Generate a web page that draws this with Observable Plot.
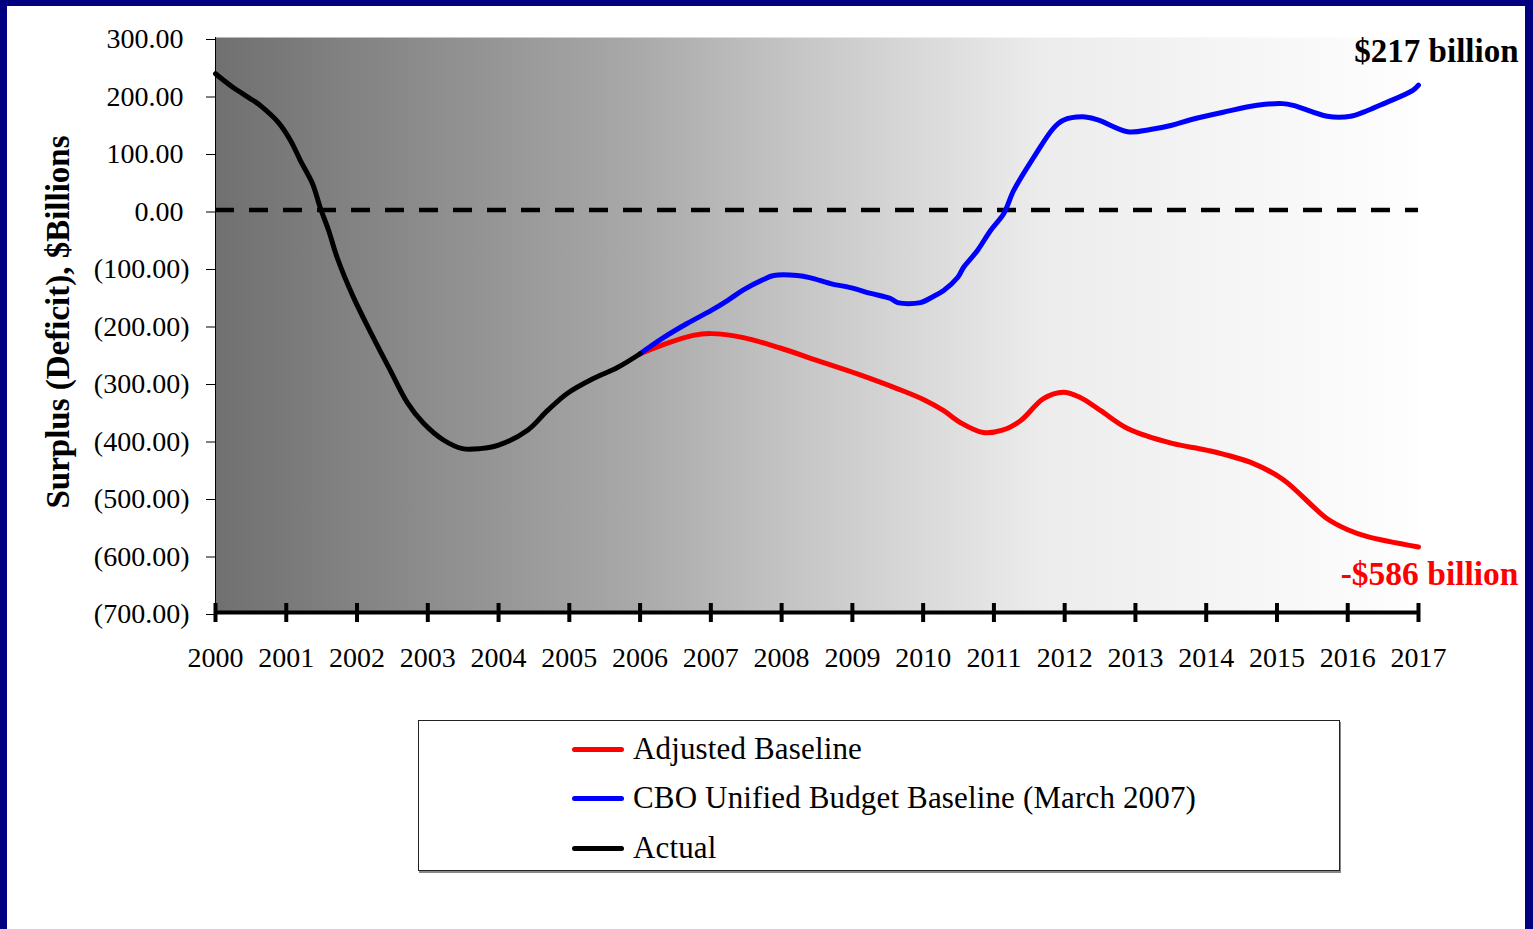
<!DOCTYPE html>
<html>
<head>
<meta charset="utf-8">
<script src="https://cdn.jsdelivr.net/npm/d3@7"></script>
<script src="https://cdn.jsdelivr.net/npm/@observablehq/plot@0.6"></script>
<style>
  html, body { margin: 0; padding: 0; width: 1533px; height: 929px; overflow: hidden; background: #000080; }
  #page { position: absolute; left: 7px; top: 6px; width: 1518px; height: 923px; background: #ffffff; }
  #chart { position: absolute; left: 0; top: 0; }
  #legend { position: absolute; left: 418px; top: 720px; width: 920px; height: 149px;
    border: 1px solid #222; box-shadow: 1px 2px 0 #888; background: #fff;
    font-family: "Liberation Serif", serif; font-size: 31px; letter-spacing: 0.15px; color: #000; }
  .item { position: absolute; left: 153px; height: 40px; display: flex; align-items: center; }
  .sw { width: 52px; height: 5px; border-radius: 3px; margin-right: 9px; }
</style>
</head>
<body>
<div id="page"></div>
<div id="chart"></div>
<div id="legend"></div>
<script>
// ---- data ----
const actualYears = [2000.0, 2000.25, 2000.54, 2000.64, 2000.89, 2001.06, 2001.20, 2001.37, 2001.48, 2001.60, 2001.72, 2001.95, 2002.23, 2002.47, 2002.71, 2002.94, 2003.22, 2003.49, 2003.74, 2004.0, 2004.41, 2004.69, 2004.97, 2005.34, 2005.68, 2006.0];
const actualValues = [237, 213, 190, 181, 152, 121, 86, 46, 4, -36, -83, -152, -222, -279, -335, -371, -400, -415, -415, -409, -383, -349, -319, -293, -274, -250];

const cboYears = [2006.0, 2006.33, 2006.67, 2007.0, 2007.24, 2007.46, 2007.74, 2007.89, 2008.22, 2008.41, 2008.69, 2008.97, 2009.26, 2009.54, 2009.64, 2009.96, 2010.15, 2010.29, 2010.49, 2010.57, 2010.77, 2010.95, 2011.14, 2011.28, 2011.56, 2011.84, 2011.98, 2012.25, 2012.46, 2012.89, 2013.21, 2013.5, 2013.78, 2014.24, 2014.72, 2015.08, 2015.23, 2015.71, 2016.04, 2016.28, 2016.51, 2016.92, 2017.0];
const cboValues = [-250, -222, -197, -175, -157, -139, -121, -114, -114, -118, -128, -135, -145, -154, -161, -161, -150, -140, -117, -100, -70, -36, -6, 34, 91, 142, 156, 162, 157, 136, 140, 147, 157, 170, 182, 185, 182, 163, 163, 173, 185, 208, 217];

const adjYears = [2006.0, 2006.33, 2006.75, 2007.0, 2007.46, 2007.98, 2008.51, 2009.07, 2009.64, 2010.01, 2010.29, 2010.53, 2010.85, 2011.12, 2011.38, 2011.7, 2011.98, 2012.22, 2012.51, 2012.89, 2013.52, 2014.02, 2014.67, 2015.09, 2015.71, 2016.0, 2016.28, 2017.0];
const adjValues = [-250, -234, -218, -215, -222, -240, -262, -285, -311, -330, -349, -370, -387, -383, -366, -328, -317, -326, -349, -380, -406, -418, -441, -469, -537, -556, -568, -586];

const yearTicks = d3.range(2000, 2018);
const valueTicks = [300, 200, 100, 0, -100, -200, -300, -400, -500, -600, -700];

const seriesNames = ["Adjusted Baseline", "CBO Unified Budget Baseline (March 2007)", "Actual"];
const seriesColors = ["#ff0000", "#0000ff", "#000000"];
const yTitle = "Surplus (Deficit), $Billions";
const endLabels = ["$217 billion", "-$586 billion"];

// ---- build tables ----
const actual = actualYears.map((x, i) => ({x, y: actualValues[i]}));
const cbo = cboYears.map((x, i) => ({x, y: cboValues[i]}));
const adj = adjYears.map((x, i) => ({x, y: adjValues[i]}));

const xDomain = [yearTicks[0], yearTicks[yearTicks.length - 1]];
const yDomain = [d3.min(valueTicks), d3.max(valueTicks)];

const fmt = d => d < 0 ? `(${Math.abs(d).toFixed(2)})` : d.toFixed(2);

function gradientDefs() {
  return () => {
    const g = d3.create("svg:g");
    const grad = g.append("defs").append("linearGradient")
      .attr("id", "bgGrad").attr("x1", 0).attr("x2", 1).attr("y1", 0).attr("y2", 0);
    [[0, "#707070"], [0.345, "#a8a8a8"], [0.486, "#c6c6c6"], [0.686, "#ececec"], [1, "#fefefe"]]
      .forEach(([o, c]) => grad.append("stop").attr("offset", o).attr("stop-color", c));
    return g.node();
  };
}

const serif = "'Liberation Serif', 'Times New Roman', serif";

const plot = Plot.plot({
  width: 1533,
  height: 690,
  marginLeft: 215,
  marginRight: 115,
  marginTop: 37,
  marginBottom: 78,
  style: {fontFamily: serif, fontSize: "28px", color: "#000", background: "transparent", overflow: "visible"},
  x: {domain: xDomain, axis: null},
  y: {domain: yDomain, axis: null},
  marks: [
    gradientDefs(),
    Plot.frame({fill: "url(#bgGrad)", stroke: null}),
    Plot.ruleY([0], {stroke: "#000", strokeWidth: 4.5, strokeDasharray: "19,15"}),
    Plot.line(adj, {x: "x", y: "y", stroke: seriesColors[0], strokeWidth: 5, curve: "catmull-rom"}),
    Plot.line(cbo, {x: "x", y: "y", stroke: seriesColors[1], strokeWidth: 5, curve: "catmull-rom"}),
    Plot.line(actual, {x: "x", y: "y", stroke: seriesColors[2], strokeWidth: 5, curve: "catmull-rom"}),
    // y axis
    Plot.ruleX([xDomain[0]], {stroke: "#000", strokeWidth: 1}),
    Plot.axisY({ticks: valueTicks.filter(d => d >= 0), tickSize: 9, tickPadding: 23, tickFormat: fmt, label: null, dy: 2}),
    Plot.axisY({ticks: valueTicks.filter(d => d < 0), tickSize: 9, tickPadding: 17, tickFormat: fmt, label: null, dy: 2}),
    Plot.text([yTitle], {frameAnchor: "left", textAnchor: "middle", text: d => d, rotate: -90, dx: -157, dy: -3, fontWeight: "bold", fontSize: 33, letterSpacing: "1px"}),
    // x axis
    Plot.ruleY([yDomain[0]], {stroke: "#000", strokeWidth: 4}),
    Plot.ruleX(yearTicks, {x: d => d, y1: () => yDomain[0], y2: () => yDomain[0], insetTop: -9, insetBottom: -10, stroke: "#000", strokeWidth: 4}),
    Plot.axisX({ticks: yearTicks, tickSize: 0, tickPadding: 35, tickFormat: d => String(d), label: null}),
    // end labels
    Plot.text([cbo[cbo.length - 1]], {x: "x", y: "y", text: () => endLabels[0], textAnchor: "end", dx: 100, dy: -34, fontWeight: "bold", fontSize: 33, fill: "#000"}),
    Plot.text([adj[adj.length - 1]], {x: "x", y: "y", text: () => endLabels[1], textAnchor: "end", dx: 100, dy: 27, fontWeight: "bold", fontSize: 33.5, fill: seriesColors[0]})
  ]
});
document.getElementById("chart").appendChild(plot);

// legend
const legend = d3.select("#legend");
const rowTops = [8, 57, 107];
seriesNames.forEach((name, i) => {
  const item = legend.append("div").attr("class", "item").style("top", rowTops[i] + "px");
  item.append("div").attr("class", "sw").style("background", seriesColors[i]);
  item.append("span").text(name);
});
</script>
</body>
</html>
